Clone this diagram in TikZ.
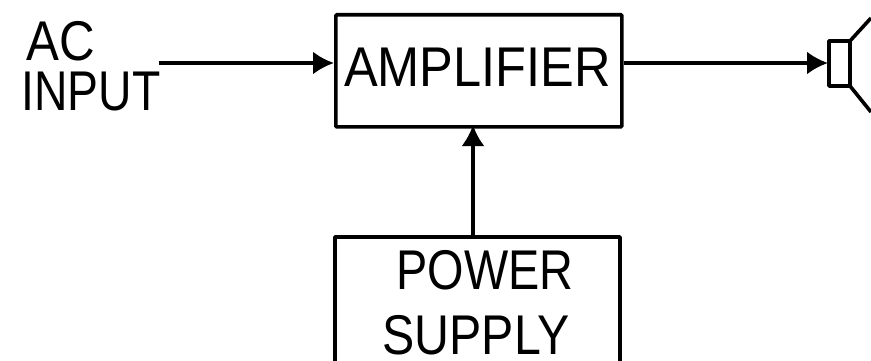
\documentclass[tikz,border=0pt]{standalone}
\usepackage{fontspec}
\setmainfont{Liberation Sans}
\usetikzlibrary{arrows.meta}
\tikzset{
  blockbox/.style={draw=black,line width=3.6pt,inner sep=0pt,anchor=north west,rounded corners=1pt},
  lbl/.style={font=\fontsize{56}{60}\selectfont,inner sep=0pt,text=black,transform shape,xscale=.88},
  wire/.style={draw=black,line width=3.4pt,-{Latex[length=21pt,width=23pt]}},
  outline/.style={draw=black,line width=3.6pt,line join=round}
}
\begin{document}
\begin{tikzpicture}[x=1pt,y=-1pt]
\useasboundingbox (0,0) rectangle (871,361);
\node[blockbox,minimum width=286pt,minimum height=112pt] (amp) at (334,13) {};
\node[lbl,xscale=1.025] (amptext) at (477.5,67) {AMPLIFIER};
\draw[outline] (335,361) -- (335,237) -- (620,237) -- (620,361);
\coordinate (ps) at (473,237);
\node[lbl,xscale=.95] (pw) at (485,270) {POWER};
\node[lbl,xscale=.98] (sp) at (476,335) {SUPPLY};
\node[lbl] (ac) at (61,41) {AC};
\node[lbl,xscale=.94] (inp) at (91,92) {INPUT};
\coordinate (acend) at (159,63);
\coordinate (spk) at (828,63);
\draw[wire] (acend) -- (amp.west |- acend);
\draw[wire] (amp.east |- spk) -- (spk);
\draw[wire] (ps) -- (473,125);
\draw[outline] (829,41) rectangle (850,86);
\draw[outline] (850,41) -- (871,18);
\draw[outline] (850,86) -- (871,112);
\end{tikzpicture}
\end{document}
